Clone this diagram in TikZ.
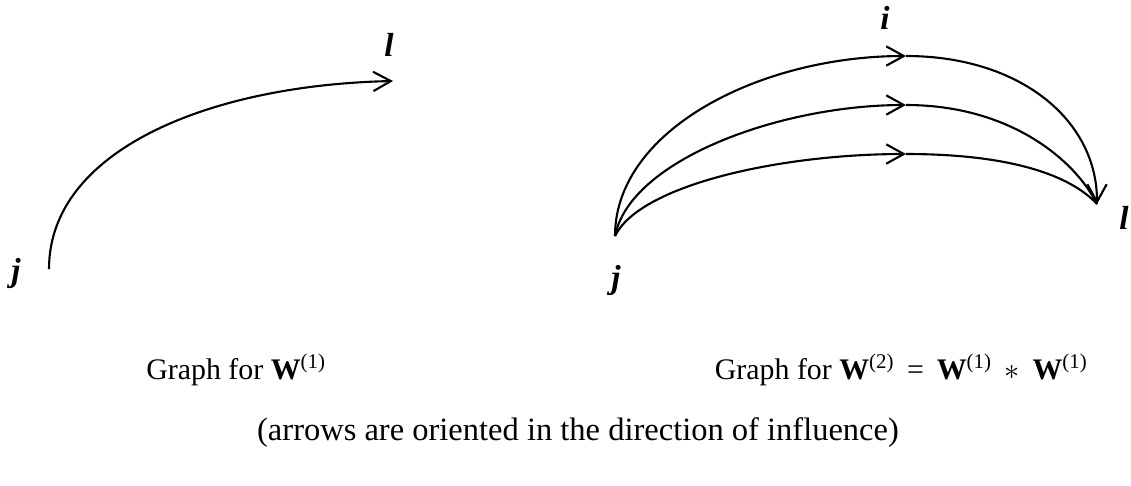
\documentclass[tikz,border=0pt]{standalone}
\usepackage{fontspec}
\setmainfont{Liberation Serif}
\usetikzlibrary{arrows.meta}
\tikzset{
  lbltxt/.style={font=\fontsize{19}{21}\selectfont\bfseries\itshape, inner sep=0pt},
  captxt/.style={font=\fontsize{17}{20}\selectfont, inner sep=0pt},
  conn/.style={line width=1.2pt},
  arrconn/.style={conn, -{Straight Barb[length=10pt,width=11pt,line width=1.2pt]}}
}
\begin{document}
\begin{tikzpicture}[x=0.02cm,y=-0.02cm]
\useasboundingbox (0,0) rectangle (1131,485);
% left graph
\coordinate (jA) at (49,269);
\coordinate (lA) at (393,81);
\node[lbltxt] (jAl) at (16,273) {j};
\node[lbltxt] (lAl) at (389,45) {l};
\draw[arrconn] (jA) .. controls (49,150) and (210,85) .. (lA);
% right graph
\coordinate (jB) at (615,236);
\coordinate (lB) at (1097,204);
\coordinate (m1) at (906,56);
\coordinate (m2) at (906,105);
\coordinate (m3) at (906,154);
\node[lbltxt] (jBl) at (616,280) {j};
\node[lbltxt] (iBl) at (885,18) {i};
\node[lbltxt] (lBl) at (1124,218) {l};
\draw[arrconn] (jB) .. controls (615,130) and (760,56) .. (m1);
\draw[arrconn] (m1) .. controls (1020,56) and (1097,120) .. (lB);
\draw[arrconn] (jB) .. controls (630,160) and (780,105) .. (m2);
\draw[conn] (m2) .. controls (1010,105) and (1075,160) .. (lB);
\draw[arrconn] (jB) .. controls (640,185) and (780,154) .. (m3);
\draw[conn] (m3) .. controls (1010,154) and (1070,175) .. (lB);
% captions
\node[captxt, anchor=base west] (c1) at (146,379) {Graph for \textbf{W}\textsuperscript{(1)}};
\node[captxt, anchor=base east] (c2) at (1088,379) {Graph for \textbf{W}\textsuperscript{(2)}\hspace{3pt} = \hspace{3pt}\textbf{W}\textsuperscript{(1)}\hspace{3pt} $\ast$ \hspace{3pt}\textbf{W}\textsuperscript{(1)}};
\node[captxt, font=\fontsize{18.5}{20}\selectfont, anchor=base] (c3) at (578,440) {(arrows are oriented in the direction of influence)};
\end{tikzpicture}
\end{document}
